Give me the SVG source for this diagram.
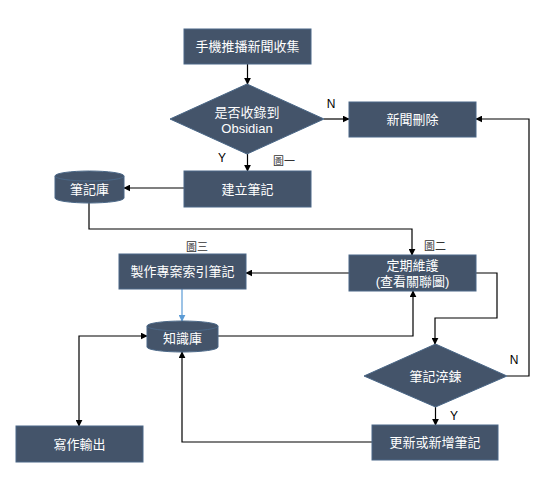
<svg xmlns="http://www.w3.org/2000/svg" width="560" height="490" viewBox="0 0 560 490">
<defs>
<style>
.n{fill:#44546A;stroke:#4A6787;stroke-width:1}
.t{fill:#FFFFFF;font-family:"Liberation Sans","Noto Sans CJK TC",sans-serif;font-size:13px;text-anchor:middle;dominant-baseline:central}
.l{fill:#000;font-family:"Liberation Sans","Noto Sans CJK TC",sans-serif;font-size:12px;text-anchor:middle;dominant-baseline:central}
.s{fill:#333;font-family:"Noto Sans CJK TC",sans-serif;font-size:11px;text-anchor:middle;dominant-baseline:central}
.c{fill:none;stroke:#000;stroke-width:1.2}
.cb{fill:none;stroke:#5B9BD5;stroke-width:1.2}
</style>
<marker id="a" viewBox="0 0 10 10" refX="9" refY="5" markerWidth="7" markerHeight="7" orient="auto-start-reverse" markerUnits="userSpaceOnUse"><path d="M0,0L10,5L0,10z" fill="#000"/></marker>
<marker id="ab" viewBox="0 0 10 10" refX="9" refY="5" markerWidth="7" markerHeight="7" orient="auto" markerUnits="userSpaceOnUse"><path d="M0,0L10,5L0,10z" fill="#5B9BD5"/></marker>
</defs>
<rect width="560" height="490" fill="#fff"/>
<g id="connectors">
<path class="c" d="M247.5,64V84" marker-end="url(#a)"/>
<path class="c" d="M324,119H349" marker-end="url(#a)"/>
<path class="c" d="M247.5,154V171" marker-end="url(#a)"/>
<path class="c" d="M184,188H124" marker-end="url(#a)"/>
<path class="c" d="M89,203V229H412V255" marker-end="url(#a)"/>
<path class="c" d="M349,273H246" marker-end="url(#a)"/>
<path class="cb" d="M182,289V321" marker-end="url(#ab)"/>
<path class="c" d="M218,336H413V291" marker-end="url(#a)"/>
<path class="c" d="M147,336H79V426" marker-start="url(#a)" marker-end="url(#a)"/>
<path class="c" d="M476,273H497V318H435V344" marker-end="url(#a)"/>
<path class="c" d="M507,376H529V119H476" marker-end="url(#a)"/>
<path class="c" d="M435.5,407V425" marker-end="url(#a)"/>
<path class="c" d="M372,442H182V352" marker-end="url(#a)"/>
</g>
<g id="labels">
<text class="l" x="331" y="104">N</text>
<text class="l" x="222" y="158">Y</text>
<text class="s" x="284" y="160">圖一</text>
<text class="s" x="435" y="245">圖二</text>
<text class="s" x="197" y="246">圖三</text>
<text class="l" x="514" y="360">N</text>
<text class="l" x="454" y="416">Y</text>
</g>
<g id="n1"><rect class="n" x="184" y="29" width="127" height="35"/><text class="t" x="247.5" y="46.5">手機推播新聞收集</text></g>
<g id="n2"><path class="n" d="M247,84L324,119L247,154L170,119Z"/><text class="t" x="247" y="112">是否收錄到</text><text class="t" x="247" y="128">Obsidian</text></g>
<g id="n3"><rect class="n" x="349" y="102" width="127" height="35"/><text class="t" x="412.5" y="119.5">新聞刪除</text></g>
<g id="n4"><rect class="n" x="184" y="171" width="127" height="36"/><text class="t" x="247.5" y="189">建立筆記</text></g>
<g id="n5"><path class="n" d="M55,176A34.5,5 0 0 1 124,176V198A34.5,5 0 0 1 55,198Z"/><path class="n" fill="none" d="M55,176A34.5,5 0 0 0 124,176" style="fill:none"/><text class="t" x="89.5" y="189">筆記庫</text></g>
<g id="n6"><rect class="n" x="349" y="255" width="127" height="36"/><text class="t" x="412.5" y="265">定期維護</text><text class="t" x="412.5" y="281">(查看關聯圖)</text></g>
<g id="n7"><rect class="n" x="119" y="254" width="127" height="35"/><text class="t" x="182.5" y="271.5">製作專案索引筆記</text></g>
<g id="n8"><path class="n" d="M147,326A35.5,5 0 0 1 218,326V347A35.5,5 0 0 1 147,347Z"/><path class="n" d="M147,326A35.5,5 0 0 0 218,326" style="fill:none"/><text class="t" x="182.5" y="338">知識庫</text></g>
<g id="n9"><path class="n" d="M435.5,344L507,376L435.5,407L364,376Z"/><text class="t" x="435.5" y="376">筆記淬鍊</text></g>
<g id="n10"><rect class="n" x="16" y="426" width="127" height="36"/><text class="t" x="79.5" y="444">寫作輸出</text></g>
<g id="n11"><rect class="n" x="372" y="425" width="126" height="35"/><text class="t" x="435" y="442.5">更新或新增筆記</text></g>
</svg>
